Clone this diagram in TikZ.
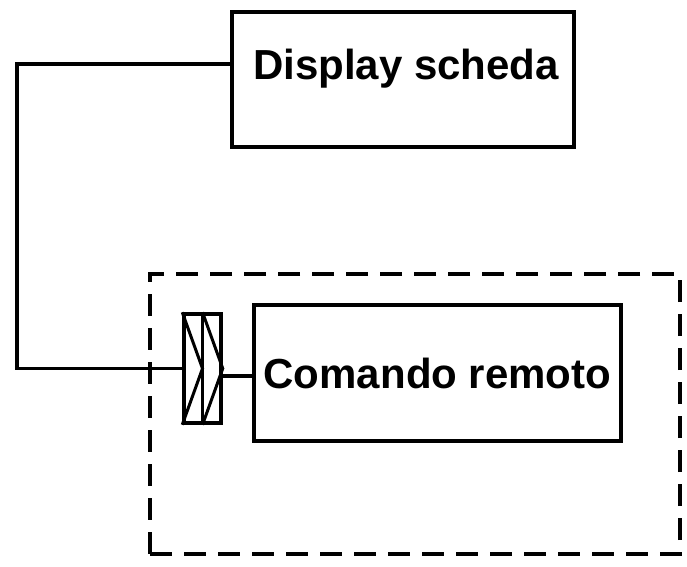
\documentclass[tikz,border=0pt]{standalone}
\usepackage{fontspec}
\setmainfont{Liberation Sans}
\begin{document}
\begin{tikzpicture}[x=1pt,y=-1pt,
    box/.style={draw=black, line width=4.5pt, rectangle, inner sep=0pt},
    wire/.style={draw=black, line width=3.5pt},
    lbl/.style={inner sep=0pt, font=\fontsize{42pt}{50pt}\selectfont\bfseries},
    group/.style={draw=black, line width=4.5pt, dash pattern=on 22pt off 12pt, rectangle, inner sep=0pt}]
    \useasboundingbox (0,0) rectangle (687,566);
    \node [box, minimum width=342pt, minimum height=135pt] (display) at (403,79.5) {};
    \node [lbl] (displaytxt) at ([xshift=3pt,yshift=10.5pt]display.center) {Display scheda};
    \node [group, minimum width=530pt, minimum height=280pt] (remote) at (415,414) {};
    \node [box, lbl, minimum width=367pt, minimum height=136pt] (comando) at (437.5,373) {Comando remoto};
    \node [box, line width=3.5pt, minimum width=37pt, minimum height=109pt] (conn) at (202.5,368.5) {};
    \draw [black, line width=3pt] (conn.north) -- (conn.south);
    \draw [black, line width=3pt] (conn.north west) -- (conn.center) -- (conn.south west);
    \draw [black, line width=3pt] (conn.north) -- (conn.east) -- (conn.south);
    \coordinate (bend) at (17,368.5);
    \draw [wire] ([yshift=15.5pt]display.west) -| (bend) -- (conn.west);
    \draw [wire] ([yshift=-7.5pt]conn.east) -- ([yshift=-7.5pt]conn.east -| comando.west);
\end{tikzpicture}
\end{document}
